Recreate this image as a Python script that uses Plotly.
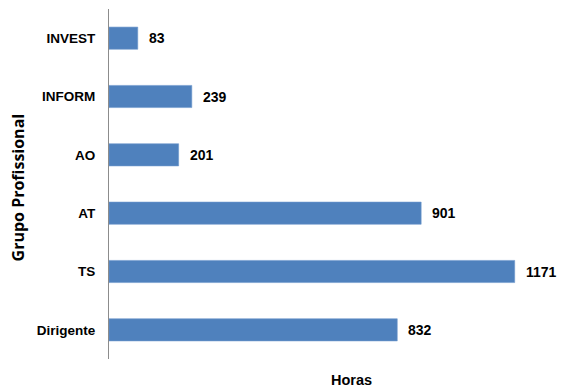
import plotly.graph_objects as go

# Training hours by professional group
grupos = ["Dirigente", "TS", "AT", "AO", "INFORM", "INVEST"]
horas = [832, 1171, 901, 201, 239, 83]

bar_color = "#4F81BD"
label_font = dict(family="Liberation Sans", size=14, color="#000000")

fig = go.Figure(
    go.Bar(
        x=horas,
        y=grupos,
        orientation="h",
        width=0.38,
        marker=dict(color=bar_color, line=dict(color="#6E98CC", width=0.6)),
        hoverinfo="x+y",
    )
)

# value labels to the right of each bar
for g, h in zip(grupos, horas):
    fig.add_annotation(
        x=h, y=g, xref="x", yref="y",
        text=f"<b>{h}</b>", showarrow=False,
        xanchor="left", yanchor="middle", xshift=9,
        font=label_font,
    )

# axis titles
fig.add_annotation(
    x=0.55, y=0, xref="paper", yref="paper",
    text="<b>Horas</b>", showarrow=False,
    xanchor="center", yanchor="middle", yshift=-21,
    font=dict(family="Liberation Sans", size=14.5, color="#000000"),
)
fig.add_annotation(
    x=-0.207, y=0.49, xref="paper", yref="paper",
    text="<b>Grupo Profissional</b>", showarrow=False, textangle=-90,
    xanchor="center", yanchor="middle",
    font=dict(family="Open Sans", size=16, color="#000000"),
)

fig.update_layout(
    width=561,
    height=387,
    margin=dict(l=109, r=12, t=9, b=28),
    paper_bgcolor="white",
    plot_bgcolor="white",
    showlegend=False,
    bargap=0.62,
)
fig.update_xaxes(
    range=[0, 1270],
    showgrid=False, zeroline=False, showline=False,
    showticklabels=False, ticks="",
)
fig.update_yaxes(
    categoryorder="array", categoryarray=grupos,
    range=[-0.5, 5.5],
    showgrid=False, zeroline=False,
    showline=True, linecolor="#8C8C8C", linewidth=1,
    ticks="", ticklabelstandoff=10,
    tickfont=dict(family="Liberation Sans", size=13.5, color="#000000", weight="bold"),
)

fig.write_html("out.html")
